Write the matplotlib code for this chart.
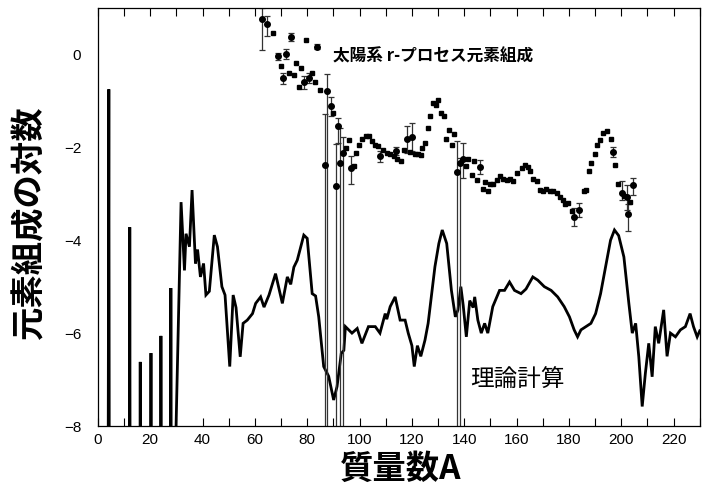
import numpy as np
import matplotlib
matplotlib.use("Agg")
import matplotlib.pyplot as plt

plt.rcParams["font.family"] = ["Noto Sans CJK JP", "DejaVu Sans"]

# theoretical abundance (log), -40 = nothing produced
theory_A = [3, 4.2, 5, 11.5, 12.2, 13, 15.5, 16.2, 17, 19.5, 20.3, 21, 23.5, 24.1, 25,
            27.3, 27.9, 28.6, 29.3, 31.8, 33.1, 33.7, 35, 36, 37.3, 38.1, 39.2, 40.4,
            41.3, 42.6, 44.5, 45.7, 47.4, 48.6, 50.4, 51.7, 52.8, 54.4, 55.5, 57.1, 59.1,
            60.3, 62.2, 63.5, 65.4, 67.9, 70.5, 72.4, 73.7, 74.9, 76.2, 78.7, 80, 81.9,
            83.2, 84.4, 86.3, 88.2, 90.1, 91.4, 93, 94, 94.6, 97.1, 99.1, 100.9, 103.4,
            106, 107.8, 109.8, 110.4, 111.7, 113.6, 115.5, 117.4, 118.6, 120, 120.9,
            122.1, 123.4, 125, 126.2, 128.8, 130.3, 131.6, 133.3, 135.1, 136.6, 137.6,
            138.7, 139.6, 140.8, 142.1, 143.4, 144, 145.2, 146.5, 147.8, 149, 150.9,
            153.5, 155.4, 157.3, 159.2, 161.7, 163.6, 166.2, 168.1, 170.6, 173.2, 175.7,
            178.2, 180.2, 182, 183.3, 184.6, 186.5, 188.4, 190.2, 192.1, 194, 195.9,
            197.4, 199, 201, 202.9, 204.2, 205.5, 206.7, 208, 209.2, 210.5, 211.8, 213,
            214.3, 216.2, 217.5, 218.8, 220.7, 222.6, 224.5, 226.3, 227.6, 229, 230]
theory_y = [-40, -0.75, -40, -40, -3.72, -40, -40, -6.62, -40, -40, -6.43, -40, -40, -6.06, -40,
            -40, -5.03, -40, -9.5, -3.18, -4.65, -3.86, -4.14, -2.92, -4.5, -4.2, -4.79, -4.5,
            -5.18, -5.1, -3.89, -4.14, -5.0, -5.18, -6.72, -5.18, -5.45, -6.51, -5.79, -5.72, -5.58,
            -5.36, -5.22, -5.44, -5.18, -4.72, -5.36, -4.79, -4.95, -4.58, -4.43, -3.89, -3.96, -5.15,
            -5.2, -5.65, -6.72, -6.93, -7.44, -7.15, -6.44, -6.37, -5.86, -6.0, -5.9, -6.22, -5.86,
            -5.86, -6.0, -5.58, -5.7, -5.43, -5.22, -5.72, -5.72, -6.0, -6.27, -6.72,
            -6.27, -6.5, -6.15, -5.79, -4.57, -4.07, -3.78, -4.07, -5.08, -5.65, -5.5,
            -5.0, -5.4, -6.08, -5.3, -5.45, -5.22, -5.72, -6.0, -5.79, -6.0, -5.43,
            -5.08, -5.08, -4.9, -5.08, -5.15, -5.05, -4.79, -4.86, -5.0, -5.08, -5.22,
            -5.43, -5.65, -5.93, -6.08, -5.93, -5.86, -5.79, -5.58, -5.15, -4.57, -4.0,
            -3.78, -3.9, -4.36, -5.36, -6.0, -5.79, -6.51, -7.58, -6.87, -6.22, -6.94, -5.86,
            -6.22, -5.5, -6.5, -6.0, -6.08, -5.93, -5.86, -5.58, -5.86, -6.08, -5.95]

# solar r-process abundances with error bars
err_A = [62.9, 64.7, 73.7, 71.8, 68.9, 70.8, 78.7, 80.7, 83.8, 87.6, 86.7, 88.9, 91.8,
         90.9, 92.7, 93.7, 96.9, 108, 113.9, 118.2, 120.2, 137.3, 138.3, 139.4, 146,
         182, 183.9, 196.7, 200.1, 202, 202.6, 204.6]
err_y = [0.77, 0.65, 0.38, 0.01, -0.04, -0.51, -0.59, -0.51, 0.17, -0.79, -2.37, -1.12, -1.55,
         -2.83, -2.33, -2.12, -2.44, -2.19, -2.08, -1.83, -1.78, -2.53, -2.33, -2.26, -2.42,
         -3.50, -3.35, -2.10, -2.98, -3.06, -3.44, -2.81]
err_lo = [0.67, 0.26, 0.08, 0.10, 0.08, 0.12, 0.15, 0.10, 0.06, 9, 9, 0.2, 0.35,
          9, 9, 9, 0.35, 0.12, 0.08, 0.3, 0.3, 9, 9, 0.4, 0.15,
          0.2, 0.15, 0.1, 0.15, 0.3, 0.36, 0.22]
err_hi = [0.22, 0.17, 0.08, 0.10, 0.08, 0.12, 0.12, 0.10, 0.06, 0.36, 1.08, 0.2, 0.18,
          0.9, 0.75, 0.35, 0.25, 0.12, 0.08, 0.3, 0.3, 0.66, 0.1, 0.35, 0.15,
          0.2, 0.15, 0.1, 0.25, 0.25, 0.22, 0.15]

# abundances without visible error bars
sq_A = [66.8, 79.7, 69.8, 73, 74.9, 75.9, 77.6, 76.9, 81.9, 82.9, 84.8, 89.7, 94.8, 95.9,
        97.9, 98.8, 99.8, 101.1, 102.4, 103.7, 104.6, 105.8, 107.1, 109, 110.4, 111.6,
        113.1, 114.4, 115.7, 116.9, 119.1, 121.2, 122.5, 123.3, 124, 125, 126.2, 127.1,
        128.1, 129.2, 130, 131.3, 132.2, 133, 134.1, 135.2, 136, 140.5, 141.5, 142.8,
        143.9, 144.9, 147, 147.9, 149, 149.9, 151.1, 152.7, 153.6, 154.9, 156.2, 157.5,
        158.5, 160, 161.9, 163.2, 164.5, 165.3, 166.3, 167.9, 168.9, 170.2, 171.4, 172.7,
        174, 175.3, 176.5, 177.8, 178.4, 179.7, 181, 185.7, 186.5, 187.7, 188.6, 189.9,
        190.8, 191.8, 193.1, 194.4, 195.9, 197.7, 198.8, 201.1, 203.5]
sq_y = [0.47, 0.31, -0.24, -0.40, -0.44, -0.19, -0.29, -0.71, -0.40, -0.59, -0.76, -1.26, -2.01, -1.85,
        -2.40, -2.12, -1.94, -1.81, -1.76, -1.76, -1.87, -1.94, -1.97, -2.05, -2.12, -2.15,
        -2.19, -2.26, -2.30, -2.05, -2.10, -2.15, -2.15, -2.17, -2.01, -1.90, -1.58, -1.33,
        -1.04, -1.09, -0.99, -1.26, -1.33, -1.81, -1.62, -1.94, -1.71, -2.40, -2.26, -2.60,
        -2.30, -2.70, -2.90, -2.74, -2.93, -2.78, -2.78, -2.71, -2.62, -2.68, -2.70, -2.68,
        -2.73, -2.55, -2.45, -2.38, -2.42, -2.51, -2.69, -2.73, -2.92, -2.94, -2.90, -2.93,
        -2.95, -2.99, -3.08, -3.14, -3.22, -3.19, -3.37, -2.94, -2.92, -2.51, -2.33, -2.14,
        -1.94, -1.85, -1.69, -1.65, -1.83, -2.38, -2.80, -3.05, -3.17]

fig = plt.figure(figsize=(7.09, 5.0), dpi=100)
ax = fig.add_axes([0.138, 0.148, 0.849, 0.836])

ax.plot(theory_A, theory_y, color="black", lw=2.0, solid_joinstyle="miter")
ax.errorbar(err_A, err_y, yerr=[err_lo, err_hi], fmt="o", color="black", ms=4,
            ecolor="#333333", elinewidth=0.9, capsize=2.5, capthick=0.9)
ax.plot(sq_A, sq_y, "s", color="black", ms=3.5)

ax.set_xlim(0, 230)
ax.set_ylim(-8, 1)
ax.set_xticks(np.arange(0, 231, 20))
ax.set_xticks(np.arange(0, 231, 10), minor=True)
ax.set_yticks([-8, -6, -4, -2, 0])
ax.tick_params(axis="x", which="both", direction="in", top=True, length=6, width=0.8,
               labelsize=11, pad=5)
ax.tick_params(axis="y", length=0, labelsize=11, pad=12)
for lab in ax.get_xticklabels() + ax.get_yticklabels():
    lab.set_family(["Liberation Sans Narrow", "Liberation Sans", "DejaVu Sans"])
for s in ax.spines.values():
    s.set_linewidth(0.9)

ax.text(0.39, 0.883, "太陽系 r-プロセス元素組成", transform=ax.transAxes,
        fontsize=12, fontweight="bold", ha="left", va="center")
ax.text(0.618, 0.11, "理論計算", transform=ax.transAxes,
        fontsize=17, ha="left", va="center")

fig.text(0.565, 0.062, "質量数A", fontsize=24, fontweight="bold", ha="center", va="center")
fig.text(0.042, 0.555, "元素組成の対数", fontsize=24, fontweight="bold", rotation=90,
         ha="center", va="center")

fig.savefig("out.png", dpi=100)
